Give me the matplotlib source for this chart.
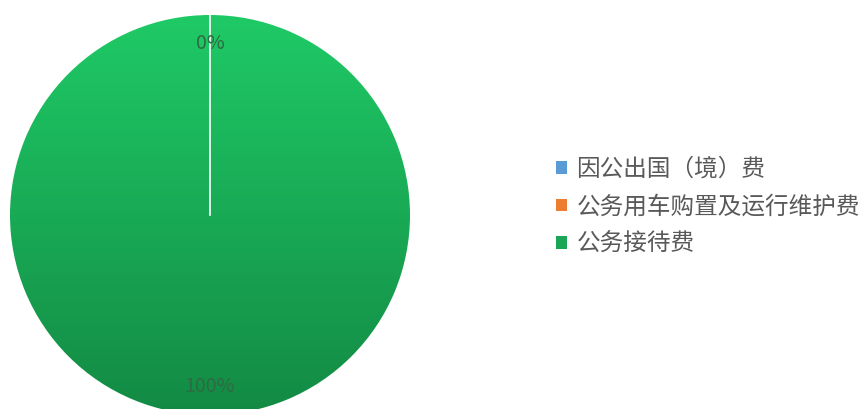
import numpy as np
import matplotlib
matplotlib.use("Agg")
import matplotlib.pyplot as plt
from matplotlib.patches import Patch
from matplotlib.colors import LinearSegmentedColormap

plt.rcParams['font.family'] = ['Noto Sans CJK SC', 'DejaVu Sans']

categories = ['因公出国（境）费', '公务用车购置及运行维护费', '公务接待费']
values = [0, 0, 100]
colors = ['#5b9bd5', '#ed7d31', '#1aa655']

fig = plt.figure(figsize=(8.67, 4.09), dpi=100)
ax = fig.add_axes([10/867, -6/409, 400/867, 400/409])

wedges, texts, autotexts = ax.pie(values, colors=colors, startangle=90, counterclock=False,
                                  autopct='%1.0f%%', pctdistance=0.86,
                                  wedgeprops=dict(edgecolor='white', linewidth=1.2),
                                  textprops=dict(color='#2d6b43', fontsize=14))
ax.set_xlim(-1, 1)
ax.set_ylim(-1, 1)
ax.set_aspect('equal')

# vertical gradient on the green slice
cmap = LinearSegmentedColormap.from_list('g', ['#138a44', '#1fca66'])
grad = np.linspace(0, 1, 256).reshape(-1, 1)
img = ax.imshow(grad, extent=[-1, 1, -1, 1], origin='lower', cmap=cmap, zorder=1.5, aspect='auto')
img.set_clip_path(wedges[2])
# white divider line from top to center
ax.plot([0, 0], [0, 1], color='white', lw=1.2, zorder=2)
for t in autotexts:
    t.set_zorder(3)
# hide the duplicate 0% label
autotexts[1].set_visible(False)

handles = [Patch(facecolor=c, edgecolor='none') for c in colors]
leg = fig.legend(handles, categories, loc='center left', bbox_to_anchor=(535/867, 1 - 207/409),
                 frameon=False, fontsize=17, labelspacing=0.62, handlelength=0.45,
                 handleheight=0.45, handletextpad=0.4)
for t in leg.get_texts():
    t.set_color('#595959')

fig.savefig('out.png', dpi=100)
